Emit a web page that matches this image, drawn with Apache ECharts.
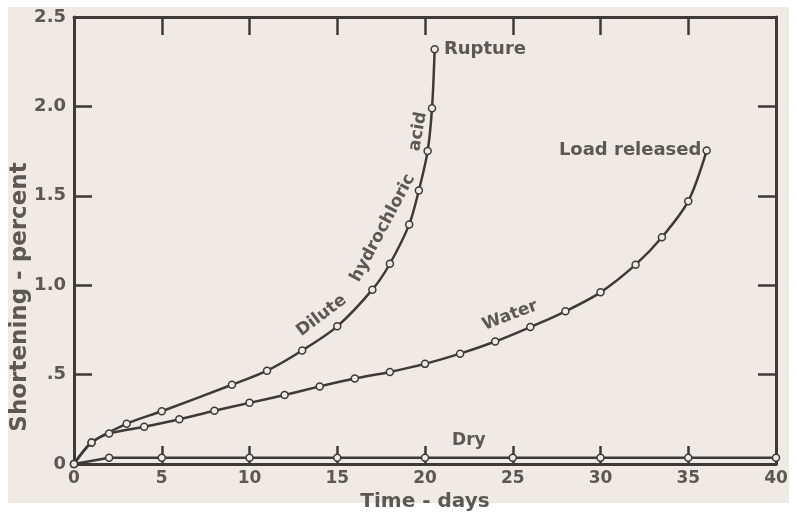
<!DOCTYPE html>
<html>
<head>
    <meta http-equiv="Content-Type" content="text/html; charset=utf-8" />
    <title>Shortening - percent</title>
    <script src="https://cdn.jsdelivr.net/npm/echarts@6/dist/echarts.min.js"></script>
    <style>
        body { margin: 0; background: #fff; }
        #main { width: 797px; height: 512px; }
    </style>
</head>
<body>
    <div id="main"></div>
<script>
    // data: [days, shortening %]
    var acidDays = [0, 1, 3, 5, 9, 11, 13, 15, 17, 18, 19.1, 19.65, 20.15, 20.4, 20.55];
    var acidVals = [0, 0.12, 0.225, 0.295, 0.443, 0.522, 0.635, 0.77, 0.975, 1.12, 1.34, 1.53, 1.75, 1.99, 2.32];
    var waterDays = [0, 1, 2, 4, 6, 8, 10, 12, 14, 16, 18, 20, 22, 24, 26, 28, 30, 32, 33.5, 35, 36.05];
    var waterVals = [0, 0.12, 0.17, 0.208, 0.25, 0.298, 0.342, 0.386, 0.434, 0.478, 0.515, 0.56, 0.617, 0.685, 0.766, 0.854, 0.96, 1.115, 1.268, 1.47, 1.753];
    var dryDays = [0, 2, 5, 10, 15, 20, 25, 30, 35, 40];
    var dryVals = [0, 0.035, 0.035, 0.035, 0.035, 0.035, 0.035, 0.035, 0.035, 0.035];
    var yTickText = { 0: '0', 0.5: '.5', 1: '1.0', 1.5: '1.5', 2: '2.0', 2.5: '2.5' };

    var ink = '#3d3a38';
    var textInk = '#5c5854';
    var paper = '#f0eae6';
    var font = 'DejaVu Sans';

    function pairs(xs, ys) {
        return xs.map(function (x, i) { return [x, ys[i]]; });
    }

    var acidData = pairs(acidDays, acidVals);
    var waterData = pairs(waterDays, waterVals);
    // end labels
    acidData[acidData.length - 1] = {
        value: acidData[acidData.length - 1],
        label: { show: true, formatter: 'Rupture', position: 'right', distance: 5, fontSize: 18 }
    };
    waterData[waterData.length - 1] = {
        value: waterData[waterData.length - 1],
        label: { show: true, formatter: 'Load released', position: 'left', distance: 1, fontSize: 18 }
    };

    var axisFrame = { show: true, onZero: false, lineStyle: { color: ink, width: 3 } };
    var tickIn = { show: true, inside: true, length: 18, lineStyle: { color: ink, width: 2.5 } };

    function curve(name, data, smooth) {
        return {
            name: name,
            type: 'line',
            data: data,
            smooth: smooth,
            symbol: 'circle',
            symbolSize: 7,
            showAllSymbol: true,
            lineStyle: { color: ink, width: 2.5 },
            itemStyle: { color: paper, borderColor: ink, borderWidth: 1.5 },
            label: { color: textInk, fontFamily: font, fontWeight: 'bold', fontSize: 18 },
            emphasis: { disabled: true },
            z: 3
        };
    }

    var myChart = echarts.init(document.getElementById('main'));
    var option = {
        animation: false,
        backgroundColor: '#fff',
        grid: { left: 74, right: 21, top: 17, bottom: 48, outerBoundsMode: 'none', containLabel: false },
        xAxis: [
            {
                type: 'value', min: 0, max: 40, interval: 5,
                name: 'Time - days', nameLocation: 'middle', nameGap: 28,
                nameTextStyle: { color: textInk, fontFamily: font, fontWeight: 'bold', fontSize: 20 },
                axisLine: axisFrame, axisTick: tickIn, splitLine: { show: false },
                axisLabel: { color: textInk, fontFamily: font, fontWeight: 'bold', fontSize: 17, margin: 6 }
            },
            {
                type: 'value', min: 0, max: 40, interval: 5, position: 'top',
                axisLine: axisFrame, axisTick: tickIn, splitLine: { show: false },
                axisLabel: { show: false }
            }
        ],
        yAxis: [
            {
                type: 'value', min: 0, max: 2.5, interval: 0.5,
                axisLine: axisFrame, axisTick: tickIn, splitLine: { show: false },
                axisLabel: {
                    color: textInk, fontFamily: font, fontWeight: 'bold', fontSize: 18, margin: 8,
                    formatter: function (v) { return yTickText[v]; }
                }
            },
            {
                type: 'value', min: 0, max: 2.5, interval: 0.5, position: 'right',
                axisLine: axisFrame, axisTick: tickIn, splitLine: { show: false },
                axisLabel: { show: false }
            }
        ],
        graphic: [
            // the paper the drawing sits on
            { type: 'rect', z: -100, silent: true, shape: { x: 8, y: 7, width: 781, height: 496 }, style: { fill: paper } },
            // y axis title sits below the middle of the axis
            {
                type: 'text', x: 20, y: 297, rotation: Math.PI / 2, z: 10,
                style: {
                    text: 'Shortening - percent', fill: textInk, font: 'bold 23px "' + font + '"',
                    align: 'center', verticalAlign: 'middle'
                }
            }
        ],
        series: [
            curve('Dilute hydrochloric acid', acidData, 0.3),
            curve('Water', waterData, 0.3),
            curve('Dry', pairs(dryDays, dryVals), false)
        ]
    };
    myChart.setOption(option);

    // curve labels placed in data space
    function txt(text, at, rot) {
        var p = myChart.convertToPixel({ gridIndex: 0 }, at);
        return {
            type: 'text', x: p[0], y: p[1], rotation: rot * Math.PI / 180, z: 10,
            style: {
                text: text, fill: textInk, font: 'bold 17px "' + font + '"',
                align: 'center', verticalAlign: 'middle'
            }
        };
    }
    var g = option.graphic.slice();
    g.push(
        txt('Dilute', [14.1, 0.83], 37),
        txt('hydrochloric', [17.6, 1.32], 62),
        txt('acid', [19.6, 1.86], 80),
        txt('Water', [24.85, 0.83], 21),
        txt('Dry', [22.5, 0.13], 0)
    );
    myChart.setOption({ graphic: g });
</script>
</body>
</html>
